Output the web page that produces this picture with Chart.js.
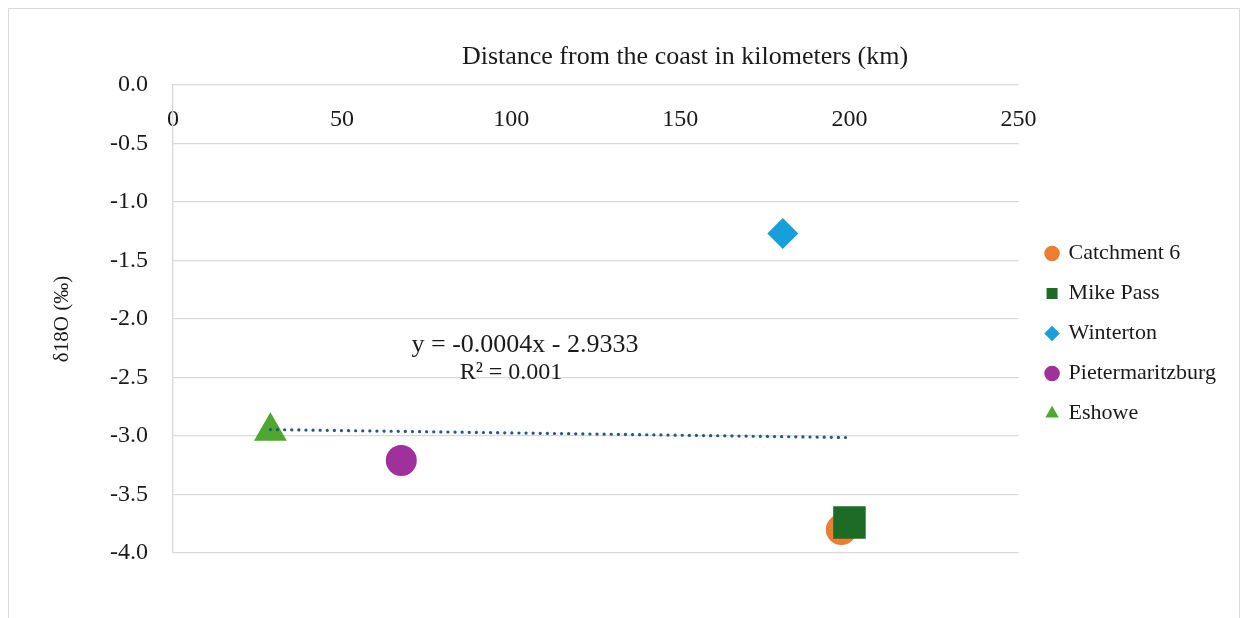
<!DOCTYPE html>
<html><head><meta charset="utf-8">
<script src="https://cdn.jsdelivr.net/npm/chart.js@4.4.0/dist/chart.umd.min.js"></script>
<style>html,body{margin:0;padding:0;background:#fff}#wrap{width:1248px;height:618px;position:relative}</style>
</head><body><div id="wrap"><canvas id="c"></canvas></div>
<script>
// ---- data ----
const seriesNames = ['Catchment 6', 'Mike Pass', 'Winterton', 'Pietermaritzburg', 'Eshowe'];
const distanceKm = [197.6, 200.0, 180.3, 67.5, 28.8];
const delta18O = [-3.80, -3.74, -1.27, -3.21, -2.96];
const seriesColors = ['#ED7D31', '#1E6B26', '#169FDA', '#A0309C', '#4EA72E'];
const pointStyles = ['circle', 'rect', 'rectRot', 'circle', 'triangle'];
const trendX = [28.8, 199.0];
const trendY = [-2.945, -3.013];
const trendLabel = ['y = -0.0004x - 2.9333', 'R\u00B2 = 0.001'];
const xTicks = [0, 50, 100, 150, 200, 250];
const yTicks = [0, -0.5, -1.0, -1.5, -2.0, -2.5, -3.0, -3.5, -4.0];
const xTitle = 'Distance from the coast in kilometers (km)';
const yTitle = '\u03B418O (\u2030)';

// ---- styling ----
const FONT = "'Liberation Serif', 'Times New Roman', serif";
const TEXT = '#1a1a1a';
const GRID = '#d9d9d9';
const pointRadii = [15.5, 23, 15.5, 15.5, 19];
const drawOrder = [2, 1, 3, 4, 5];

const datasets = seriesNames.map((name, i) => ({
  label: name,
  data: [{x: distanceKm[i], y: delta18O[i]}],
  backgroundColor: seriesColors[i],
  borderColor: seriesColors[i],
  borderWidth: 0,
  pointStyle: pointStyles[i],
  pointRadius: pointRadii[i],
  pointHoverRadius: pointRadii[i],
  order: drawOrder[i]
}));
datasets.push({
  type: 'line',
  label: 'trend',
  data: trendX.map((x, i) => ({x, y: trendY[i]})),
  borderColor: '#22598A',
  borderWidth: 3.2,
  borderCapStyle: 'round',
  borderDash: [0.1, 7],
  pointRadius: 0,
  fill: false,
  order: 0
});

const annot = {
  id: 'annot',
  beforeDraw(chart) {
    const ctx = chart.ctx;
    ctx.save();
    ctx.fillStyle = '#fff';
    ctx.fillRect(0, 0, chart.width, chart.height);
    ctx.strokeStyle = GRID;
    ctx.lineWidth = 1;
    ctx.strokeRect(8.5, 8.5, 1231, 700);
    ctx.restore();
  },
  afterDraw(chart) {
    const ctx = chart.ctx;
    ctx.save();
    ctx.fillStyle = TEXT;
    ctx.textAlign = 'center';
    ctx.textBaseline = 'middle';
    ctx.font = "26px " + FONT;
    ctx.fillText(xTitle, 685, 57);
    ctx.fillText(trendLabel[0], 525, 345);
    ctx.font = "24px " + FONT;
    ctx.fillText(trendLabel[1], 511, 373);
    ctx.restore();
  }
};

new Chart(document.getElementById('c'), {
  type: 'scatter',
  data: {datasets},
  plugins: [annot],
  options: {
    responsive: true,
    maintainAspectRatio: false,
    animation: false,
    devicePixelRatio: 1,
    layout: {padding: {left: 0, top: 0, right: 22, bottom: 65}},
    plugins: {
      tooltip: {enabled: false},
      legend: {
        position: 'right',
        align: 'center',
        title: {display: true, text: ' ', font: {size: 10}, padding: {top: 102, bottom: 0}},
        labels: {
          usePointStyle: true,
          boxWidth: 11,
          boxHeight: 11,
          padding: 18,
          color: TEXT,
          font: {family: FONT, size: 22},
          sort: (a, b) => a.datasetIndex - b.datasetIndex,
          filter: item => item.text !== 'trend'
        }
      }
    },
    scales: {
      x: {
        type: 'linear',
        position: 'top',
        min: 0, max: 250,
        afterBuildTicks: s => { s.ticks = xTicks.map(v => ({value: v})); },
        grid: {display: false, drawTicks: false},
        border: {display: false},
        ticks: {mirror: true, padding: 20, color: TEXT, font: {family: FONT, size: 24}, maxRotation: 0},
        afterFit: s => { s.height = 85; }
      },
      y: {
        type: 'linear',
        position: 'left',
        min: -4, max: 0,
        afterBuildTicks: s => { s.ticks = yTicks.map(v => ({value: v})); },
        grid: {color: GRID, lineWidth: 1.3, drawTicks: false},
        border: {display: true, color: GRID, width: 1.3},
        ticks: {padding: 25, color: TEXT, font: {family: FONT, size: 24}, callback: v => Number(v).toFixed(1)},
        title: {display: true, text: yTitle, color: TEXT, font: {family: FONT, size: 21}, padding: {top: 50, bottom: 0}},
        afterFit: s => { s.width = 173; }
      },
      yPad: {
        type: 'linear',
        position: 'right',
        display: true,
        grid: {display: false, drawTicks: false},
        border: {display: false},
        ticks: {display: false},
        afterFit: s => { s.width = 10; }
      }
    }
  }
});
</script>
</body></html>
